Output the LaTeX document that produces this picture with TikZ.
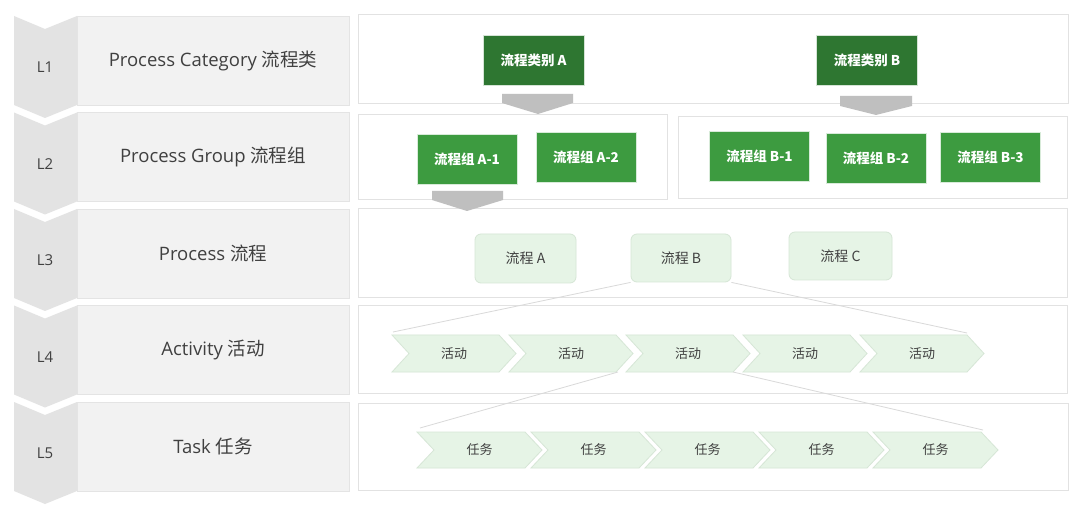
\documentclass[tikz,border=0pt]{standalone}
\usepackage{fontspec}
\setmainfont{Open Sans}
\newfontfamily\cjk{Noto Sans CJK SC}
\usetikzlibrary{calc}
\definecolor{chevgray}{HTML}{E3E3E3}
\definecolor{labfill}{HTML}{F2F2F2}
\definecolor{labline}{HTML}{E4E4E4}
\definecolor{panline}{HTML}{E2E2E2}
\definecolor{darkg}{HTML}{2E7631}
\definecolor{midg}{HTML}{3D9B40}
\definecolor{lightg}{HTML}{E6F4E6}
\definecolor{lightgline}{HTML}{D6E6D6}
\definecolor{arrgray}{HTML}{BFBFBF}
\definecolor{txt}{HTML}{404040}
\definecolor{zl}{HTML}{D9D9D9}
\newcommand\levelrow[3]{%
  \path[fill=chevgray] (14,#2) -- (45,{#2+13}) -- (77,#2) -- (77,{#2+89}) -- (45,{#2+102}) -- (14,{#2+89}) -- cycle;
  \node[lvltext] (lv#1) at (45,{#2+51.5}) {L#1};
  \node[labbox] (lab#1) at (213,{#2+44.5}) {#3};
}
\newcommand\chev[6]{%
  \path[chevshape] (#2,#3) -- ({#2+#5-17},#3) -- ({#2+#5},{(#3+#4)/2}) -- ({#2+#5-17},#4) -- (#2,#4) -- ({#2+17},{(#3+#4)/2}) -- cycle;
  \node[chevtext] (#1) at ({#2+#5/2},{(#3+#4)/2}) {#6};
  \coordinate (#1tl) at (#2,#3);
  \coordinate (#1tr) at ({#2+#5-17},#3);
  \coordinate (#1bl) at (#2,#4);
  \coordinate (#1br) at ({#2+#5-17},#4);
}
\begin{document}
\begin{tikzpicture}[x=1pt,y=-1pt,
  lvltext/.style={text=txt,font=\fontsize{15}{18}\selectfont},
  labbox/.style={rectangle,fill=labfill,draw=labline,line width=0.8pt,minimum width=272,minimum height=89,inner sep=0pt,text=txt,font=\fontsize{18.5}{22}\selectfont},
  panel/.style={rectangle,draw=panline,line width=1pt,fill=white,inner sep=0pt},
  catbox/.style={rectangle,fill=darkg,draw=white!80!darkg,line width=0.6pt,minimum width=101,minimum height=50,inner sep=0pt,text=white,font=\cjk\bfseries\fontsize{13.5}{16}\selectfont},
  grpbox/.style={rectangle,fill=midg,draw=white!80!midg,line width=0.6pt,minimum width=100,minimum height=50,inner sep=0pt,text=white,font=\cjk\bfseries\fontsize{13.5}{16}\selectfont},
  procbox/.style={rectangle,rounded corners=6pt,fill=lightg,draw=lightgline,line width=0.8pt,minimum height=48,inner sep=0pt,text=txt,font=\cjk\fontsize{14}{16}\selectfont},
  chevshape/.style={fill=lightg,draw=lightgline,line width=0.8pt},
  chevtext/.style={text=txt,font=\cjk\fontsize{13}{15}\selectfont},
  downarrow/.style={fill=arrgray},
  zoomline/.style={draw=zl,line width=0.8pt}]
\useasboundingbox (0,0) rectangle (1080,513);
\fill[white] (0,0) rectangle (1080,513);

% left column
\levelrow{1}{16}{Process Category {\cjk 流程类}}
\levelrow{2}{112.5}{Process Group {\cjk 流程组}}
\levelrow{3}{209}{Process {\cjk 流程}}
\levelrow{4}{305.5}{Activity {\cjk 活动}}
\levelrow{5}{402}{Task {\cjk 任务}}

% panels
\node[panel,minimum width=710,minimum height=89] (pan1) at (713,59.5) {};
\node[panel,minimum width=309,minimum height=85] (pan2a) at (512.5,157.5) {};
\node[panel,minimum width=389,minimum height=82] (pan2b) at (872.5,158) {};
\node[panel,minimum width=709,minimum height=89] (pan3) at (712.5,253.5) {};
\node[panel,minimum width=709,minimum height=87] (pan4) at (712.5,349.5) {};
\node[panel,minimum width=710,minimum height=87] (pan5) at (713,446.5) {};

% L1 categories
\node[catbox] (catA) at (533.5,60) {流程类别 A};
\node[catbox] (catB) at (867,60.5) {流程类别 B};

% gray down arrows
\path[downarrow] (502,94) -- (573,94) -- (573,103) -- (538,114) -- (502,103) -- cycle;
\path[downarrow] (840,96) -- (912,96) -- (912,106) -- (876,115) -- (840,106) -- cycle;

% L2 groups
\node[grpbox] (gA1) at (467,159) {流程组 A-1};
\node[grpbox] (gA2) at (586,157.5) {流程组 A-2};
\node[grpbox] (gB1) at (759.5,156.5) {流程组 B-1};
\node[grpbox] (gB2) at (876,158) {流程组 B-2};
\node[grpbox] (gB3) at (990.5,157) {流程组 B-3};

\path[downarrow] (432,191) -- (503,191) -- (503,200) -- (467,211) -- (432,200) -- cycle;

% L3 processes
\node[procbox,minimum width=101,minimum height=49] (pA) at (525.5,258.5) {流程 A};
\node[procbox,minimum width=100] (pB) at (681,258) {流程 B};
\node[procbox,minimum width=103] (pC) at (840.5,256) {流程 C};

% L4 activities
\foreach \k in {0,...,4} {
  \pgfmathsetmacro\xs{392+117*\k}
  \chev{a\k}{\xs}{335}{372}{124}{活动}
}
% L5 tasks
\foreach \k in {0,...,4} {
  \pgfmathsetmacro\xs{417+114*\k}
  \chev{t\k}{\xs}{432}{468}{125}{任务}
}

% zoom lines
\coordinate (z1) at ($(a0tl)+(1,-3)$);
\coordinate (z2) at ($(a4tr)+(0,-2)$);
\coordinate (z3) at ($(t0tl)+(3,-4)$);
\coordinate (z4) at ($(t4tr)+(2,-2)$);
\coordinate (z5) at ($(a2bl)+(-8,0)$);
\draw[zoomline] (pB.south west) -- (z1);
\draw[zoomline] (pB.south east) -- (z2);
\draw[zoomline] (z5) -- (z3);
\draw[zoomline] (a2br) -- (z4);
\end{tikzpicture}
\end{document}
